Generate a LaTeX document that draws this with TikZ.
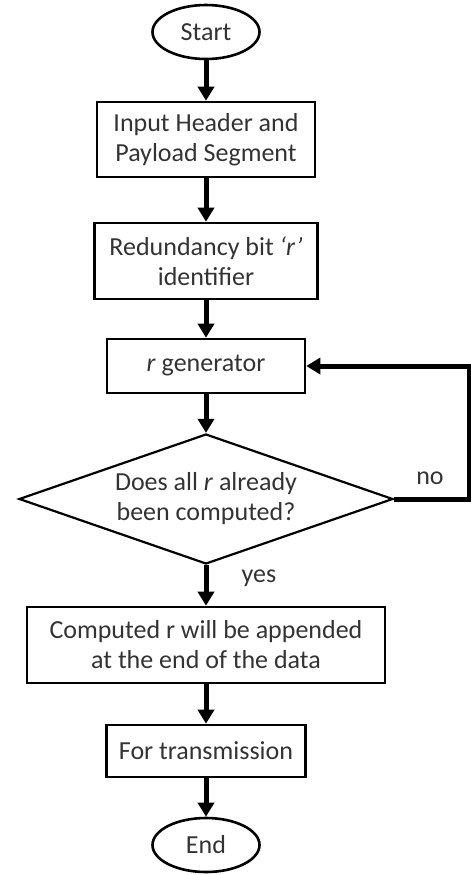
\documentclass[tikz,border=0pt]{standalone}
\usepackage{fontspec}
\setmainfont{Carlito}
\usetikzlibrary{arrows.meta, shapes.geometric}

\tikzset{
  box/.style={draw, line width=1.3pt, inner sep=0pt, align=center},
  term/.style={draw, ellipse, line width=1.3pt, inner sep=0pt, minimum width=53.5pt, minimum height=27pt},
  decision/.style={draw, diamond, aspect=2.88, line width=1.1pt, inner sep=0pt, align=center},
  flow/.style={line width=2.5pt, -{Triangle[width=8pt,length=7pt]}}
}

\begin{document}
\begin{tikzpicture}[x=0.5pt, y=-0.5pt, font=\fontsize{13}{15}\selectfont, text=black!80]
\useasboundingbox (0,0) rectangle (471,875);
\node[term] (start) at (206,32) {Start};
\node[box, minimum width=109pt, minimum height=37.5pt] (input) at (206,139.5) {Input Header and\\Payload Segment};
\node[box, minimum width=111.5pt, minimum height=38pt] (ident) at (206,261) {Redundancy bit \textit{‘r’}\\identifier};
\node[box, minimum width=99pt, minimum height=27pt] (gen) at (206,366) {\textit{r} generator};
\node[decision, minimum width=187pt, minimum height=65pt] (check) at (206,499) {Does all \textit{r} already\\been computed?};
\node[box, minimum width=179pt, minimum height=38pt] (append) at (206,645) {Computed r will be appended\\at the end of the data};
\node[box, minimum width=99.5pt, minimum height=26pt] (send) at (206,751) {For transmission};
\node[term] (end) at (206,845) {End};
\coordinate (loop) at (469,499);
\node (no) at (430,478) {no};
\node (yes) at (259,578) {yes};
\draw[flow] (start) -- (input);
\draw[flow] (input) -- (ident);
\draw[flow] (ident) -- (gen);
\draw[flow] (gen) -- (check);
\draw[flow] (check) -- (append);
\draw[flow] (append) -- (send);
\draw[flow] (send) -- (end);
\draw[flow] (check.east) -- (loop) |- (gen.east);
\end{tikzpicture}
\end{document}
